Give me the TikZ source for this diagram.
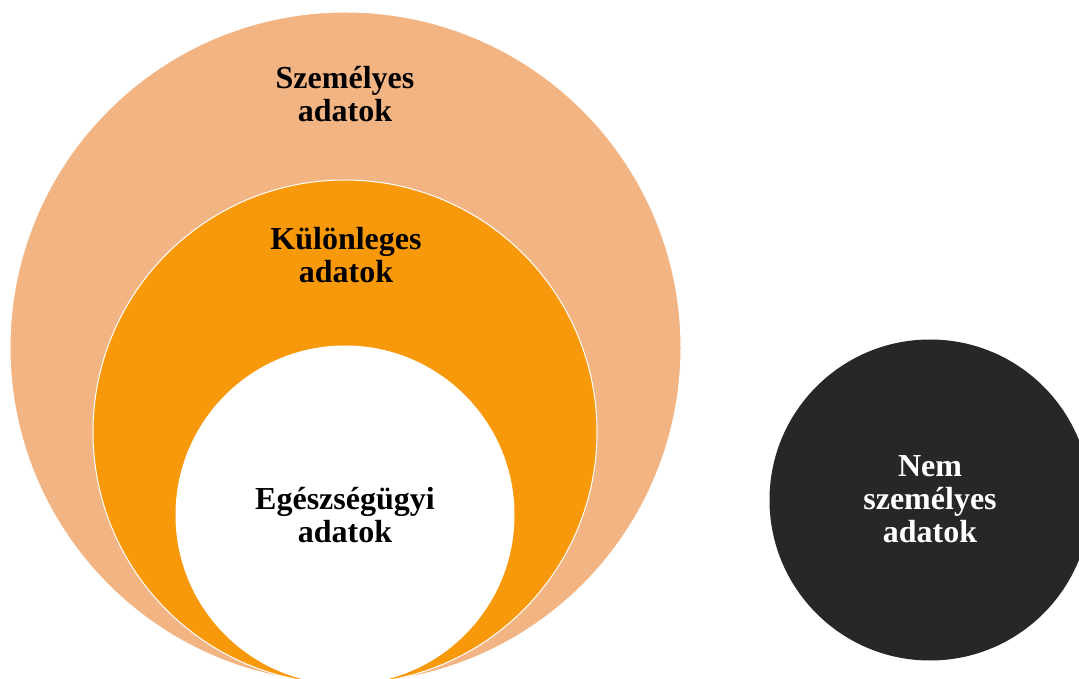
\documentclass[tikz,border=0pt]{standalone}
\usepackage{fontspec}
\setmainfont{Liberation Serif}
\definecolor{peach}{HTML}{F2B482}
\definecolor{orng}{HTML}{F8990C}
\definecolor{dark}{HTML}{272727}
\begin{document}
\begin{tikzpicture}[x=1pt,y=1pt,
  ring/.style={draw=white,line width=1pt},
  lbl/.style={anchor=base,align=center,font=\fontsize{32}{33}\selectfont\bfseries,inner sep=0pt}]
\clip (0,0) rectangle (1079,678);
\fill[white] (0,0) rectangle (1079,678);
\path[ring,fill=peach] (345.5,330.5) circle[radius=335.5];
\path[ring,fill=orng] (345,246) circle[radius=252];
\path[ring,fill=white] (345,163) circle[radius=169];
\path[fill=dark] (930,178) circle[radius=160.5];
\node[lbl] (pers) at (345,556) {Személyes\\adatok};
\node[lbl] (spec) at (346,395) {Különleges\\adatok};
\node[lbl] (health) at (345,136) {Egészségügyi\\adatok};
\node[lbl,text=white] (nonpers) at (930,136) {Nem\\személyes\\adatok};
\end{tikzpicture}
\end{document}
